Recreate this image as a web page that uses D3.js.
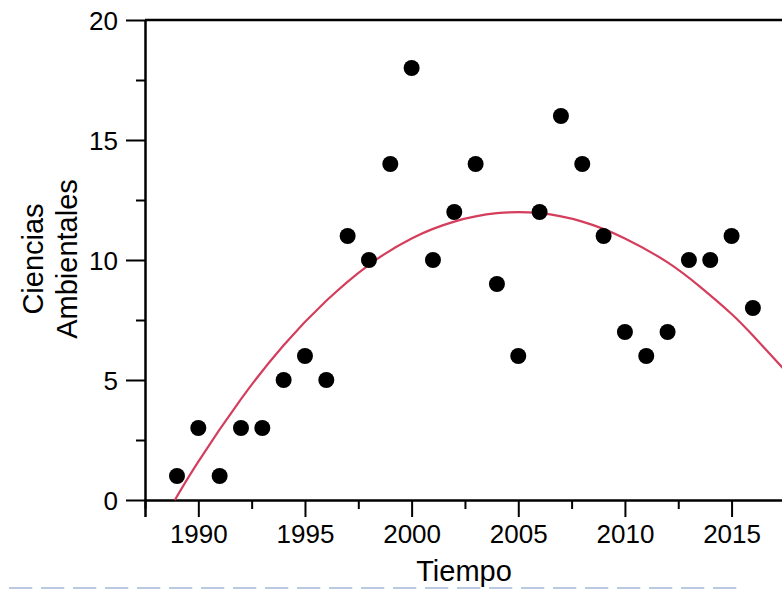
<!DOCTYPE html>
<html>
<head>
<meta charset="utf-8">
<script src="https://cdn.jsdelivr.net/npm/d3@7"></script>
<style>
  body { margin: 0; background: #fff; }
  svg { display: block; font-family: "Liberation Sans", Arial, Helvetica, sans-serif; }
</style>
</head>
<body>
<svg id="chart"></svg>
<script>
// points
const years = [1989, 1990, 1991, 1992, 1993, 1994, 1995, 1996, 1997, 1998,
  1999, 2000, 2001, 2002, 2003, 2004, 2005, 2006, 2007, 2008,
  2009, 2010, 2011, 2012, 2013, 2014, 2015, 2016];
const values = [1, 3, 1, 3, 3, 5, 6, 5, 11, 10,
  14, 18, 10, 12, 14, 9, 6, 12, 16, 14,
  11, 7, 6, 7, 10, 10, 11, 8];

// fitted curve
const fitYears = [1988.9, 1990, 1992, 1994, 1996, 1998, 2000, 2002, 2004, 2006, 2008, 2010, 2012, 2013.5, 2015, 2016, 2017.4];
const fitValues = [0, 1.6, 4.2, 6.45, 8.3, 9.8, 10.9, 11.6, 11.95, 11.95, 11.6, 10.9, 9.9, 8.9, 7.75, 6.85, 5.5];

const xMajor = [1990, 1995, 2000, 2005, 2010, 2015];
const xMinor = [1987.5, 1992.5, 1997.5, 2002.5, 2007.5, 2012.5];
const yMajor = [0, 5, 10, 15, 20];
const yMinor = [2.5, 7.5, 12.5, 17.5];

function drawChart() {
  const width = 782, height = 589;
  const svg = d3.select("#chart")
    .attr("width", width)
    .attr("height", height);

  const left = 145, top = 20, bottom = 500;

  const x = d3.scaleLinear()
    .domain([1987.5, 2017.5])
    .range([left, left + 30 * 21.33]);

  const y = d3.scaleLinear()
    .domain([0, 20])
    .range([bottom, top]);

  // top frame line
  svg.append("line")
    .attr("x1", left).attr("x2", width)
    .attr("y1", top).attr("y2", top)
    .style("stroke", "black")
    .style("stroke-width", 2.5);

  // x axis, major + minor ticks
  const xAxis = svg.append("g")
    .attr("transform", `translate(0,${bottom})`)
    .call(d3.axisBottom(x).tickValues(xMajor).tickSize(17).tickFormat(d3.format("d")));
  xAxis.append("g")
    .call(d3.axisBottom(x).tickValues(xMinor).tickSize(9).tickFormat(""))
    .select(".domain").remove();
  xAxis.selectAll("path").style("stroke-width", 2.5);
  xAxis.selectAll("line").style("stroke-width", 2);
  xAxis.selectAll("text")
    .attr("y", 43)
    .attr("dy", 0)
    .style("font-size", "26px")
    .style("fill", "black");

  // y axis
  const yAxis = svg.append("g")
    .attr("transform", `translate(${left},0)`)
    .call(d3.axisLeft(y).tickValues(yMajor).tickSize(19).tickPadding(8).tickSizeOuter(0));
  yAxis.append("g")
    .call(d3.axisLeft(y).tickValues(yMinor).tickSize(9).tickFormat(""))
    .select(".domain").remove();
  yAxis.selectAll("path").style("stroke-width", 2.5);
  yAxis.selectAll("line").style("stroke-width", 2);
  yAxis.selectAll("text")
    .attr("dy", "0.35em")
    .style("font-size", "26px")
    .style("fill", "black");

  // axis titles
  svg.append("text")
    .attr("x", 464)
    .attr("y", 581)
    .attr("text-anchor", "middle")
    .style("font-size", "29px")
    .text("Tiempo");

  const yTitle = svg.append("text")
    .attr("transform", "translate(0,259) rotate(-90)")
    .attr("text-anchor", "middle")
    .style("font-size", "29px");
  yTitle.append("tspan").attr("x", 0).attr("y", 43).text("Ciencias");
  yTitle.append("tspan").attr("x", 0).attr("y", 77).text("Ambientales");

  // fitted curve
  const fit = fitYears.map((d, i) => ({ year: d, value: fitValues[i] }));
  const line = d3.line()
    .x(d => x(d.year))
    .y(d => y(d.value))
    .curve(d3.curveNatural);

  svg.append("path")
    .datum(fit)
    .attr("d", line)
    .style("fill", "none")
    .style("stroke", "#d43d5c")
    .style("stroke-width", 2.2);

  // dots
  svg.selectAll(".dot")
    .data(years.map((d, i) => ({ year: d, value: values[i] })))
    .enter().append("circle")
    .attr("class", "dot")
    .attr("cx", d => x(d.year))
    .attr("cy", d => y(d.value))
    .attr("r", 8)
    .style("fill", "black");

  // dashed line along the bottom
  svg.append("line")
    .attr("x1", 9).attr("x2", 737)
    .attr("y1", 588).attr("y2", 588)
    .style("stroke", "#a3b6da")
    .style("stroke-width", 1.5)
    .style("stroke-dasharray", "23.3 8.7");
}

drawChart();
</script>
</body>
</html>
